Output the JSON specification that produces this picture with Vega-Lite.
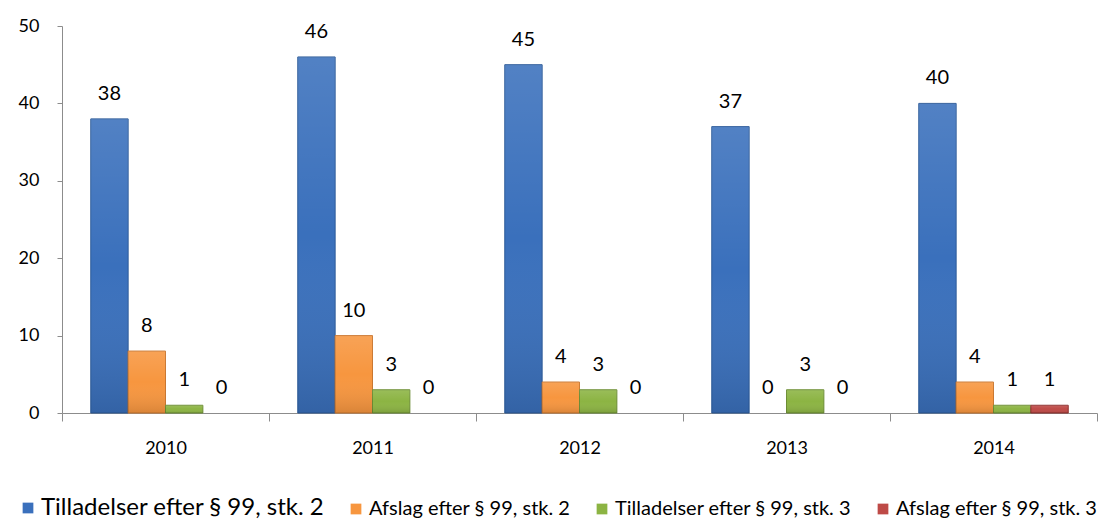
{
  "$schema": "https://vega.github.io/schema/vega-lite/v6.json",
  "width": 1035,
  "height": 387,
  "autosize": "none",
  "padding": {"left": 62, "top": 26, "right": 6, "bottom": 107},
  "background": "white",
  "config": {
    "font": "Lato",
    "view": {"stroke": null},
    "axis": {"labelFont": "Lato", "labelColor": "#000000", "domainColor": "#8c8c8c", "tickColor": "#8c8c8c", "grid": false}
  },
  "data": {
    "values": [
      {"year": "2010", "series": "Tilladelser efter § 99, stk. 2", "value": 38},
      {"year": "2010", "series": "Afslag efter § 99, stk. 2", "value": 8},
      {"year": "2010", "series": "Tilladelser efter § 99, stk. 3", "value": 1},
      {"year": "2010", "series": "Afslag efter § 99, stk. 3", "value": 0},
      {"year": "2011", "series": "Tilladelser efter § 99, stk. 2", "value": 46},
      {"year": "2011", "series": "Afslag efter § 99, stk. 2", "value": 10},
      {"year": "2011", "series": "Tilladelser efter § 99, stk. 3", "value": 3},
      {"year": "2011", "series": "Afslag efter § 99, stk. 3", "value": 0},
      {"year": "2012", "series": "Tilladelser efter § 99, stk. 2", "value": 45},
      {"year": "2012", "series": "Afslag efter § 99, stk. 2", "value": 4},
      {"year": "2012", "series": "Tilladelser efter § 99, stk. 3", "value": 3},
      {"year": "2012", "series": "Afslag efter § 99, stk. 3", "value": 0},
      {"year": "2013", "series": "Tilladelser efter § 99, stk. 2", "value": 37},
      {"year": "2013", "series": "Afslag efter § 99, stk. 2", "value": 0},
      {"year": "2013", "series": "Tilladelser efter § 99, stk. 3", "value": 3},
      {"year": "2013", "series": "Afslag efter § 99, stk. 3", "value": 0},
      {"year": "2014", "series": "Tilladelser efter § 99, stk. 2", "value": 40},
      {"year": "2014", "series": "Afslag efter § 99, stk. 2", "value": 4},
      {"year": "2014", "series": "Tilladelser efter § 99, stk. 3", "value": 1},
      {"year": "2014", "series": "Afslag efter § 99, stk. 3", "value": 1}
    ]
  },
  "encoding": {
    "x": {
      "field": "year", "type": "nominal",
      "scale": {"paddingInner": 0, "paddingOuter": 0},
      "axis": {"title": null, "labelAngle": 0, "labelFontSize": 18, "tickBand": "extent", "tickSize": 8, "labelPadding": 18, "domainColor": "#8c8c8c"}
    },
    "xOffset": {
      "field": "series", "type": "nominal",
      "sort": ["Tilladelser efter § 99, stk. 2", "Afslag efter § 99, stk. 2", "Tilladelser efter § 99, stk. 3", "Afslag efter § 99, stk. 3"],
      "scale": {"paddingOuter": 0.77, "paddingInner": 0}
    },
    "y": {
      "field": "value", "type": "quantitative",
      "scale": {"domain": [0, 50]},
      "axis": {"title": null, "values": [0, 10, 20, 30, 40, 50], "labelFontSize": 18, "tickSize": 5, "labelPadding": 18}
    }
  },
  "layer": [
    {
      "transform": [{"filter": "datum.value > 0"}],
      "mark": {"type": "bar", "strokeWidth": 1},
      "encoding": {
        "color": {
          "field": "series", "type": "nominal",
          "scale": {
            "domain": ["Tilladelser efter § 99, stk. 2", "Afslag efter § 99, stk. 2", "Tilladelser efter § 99, stk. 3", "Afslag efter § 99, stk. 3"],
            "range": ["#3A70BC", "#F7963F", "#8CB443", "#BE4A47"]
          },
          "legend": {
            "title": null,
            "orient": "none",
            "legendX": -44,
            "legendY": 472,
            "direction": "horizontal",
            "symbolType": "square",
            "symbolSize": 115,
            "symbolStrokeWidth": 0,
            "symbolOpacity": 1,
            "labelOffset": 3,
            "columnPadding": 21,
            "labelFont": "Lato",
            "labelColor": "#000000",
            "labelFontSize": {"expr": "datum.label === 'Tilladelser efter § 99, stk. 2' ? 24 : 20"},
            "labelLimit": 400
          }
        },
        "stroke": {
          "field": "series", "type": "nominal",
          "scale": {
            "domain": ["Tilladelser efter § 99, stk. 2", "Afslag efter § 99, stk. 2", "Tilladelser efter § 99, stk. 3", "Afslag efter § 99, stk. 3"],
            "range": ["#2C5A98", "#C9762F", "#6B8C32", "#8C2E2C"]
          },
          "legend": null
        }
      }
    },
    {
      "transform": [{"filter": "datum.value > 0"}],
      "mark": {
        "type": "bar",
        "strokeWidth": 0,
        "fill": {
          "gradient": "linear", "x1": 0, "y1": 0, "x2": 0, "y2": 1,
          "stops": [
            {"offset": 0, "color": "rgba(255,255,255,0.12)"},
            {"offset": 0.5, "color": "rgba(255,255,255,0.0)"},
            {"offset": 1, "color": "rgba(0,0,0,0.12)"}
          ]
        }
      },
      "encoding": {}
    },
    {
      "mark": {"type": "text", "fontSize": 20, "baseline": "middle", "dy": -25, "color": "#000000"},
      "encoding": {"text": {"field": "value", "type": "quantitative"}}
    }
  ]
}
